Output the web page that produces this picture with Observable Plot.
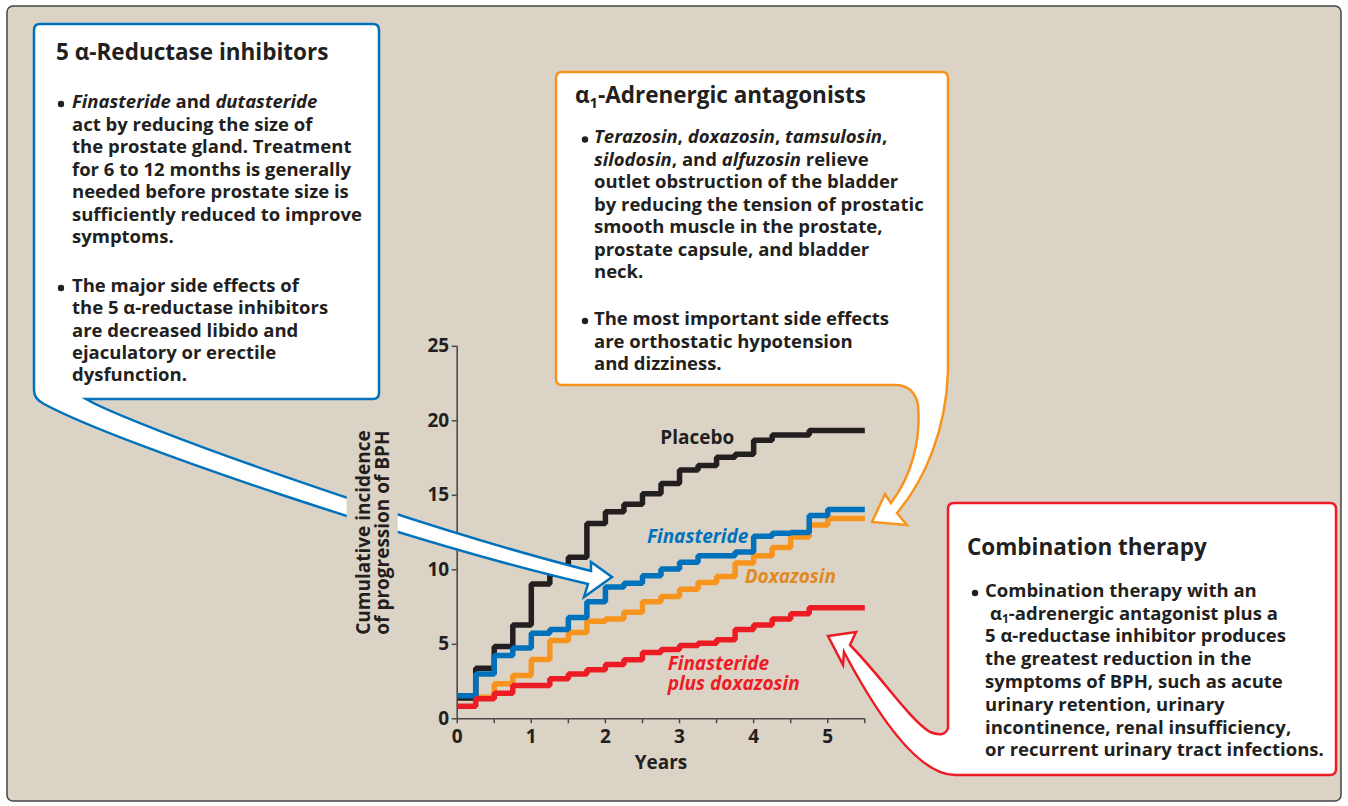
<!DOCTYPE html>
<html><head><meta charset="utf-8">
<script src="https://cdn.jsdelivr.net/npm/d3@7"></script>
<script src="https://cdn.jsdelivr.net/npm/@observablehq/plot@0.6"></script>
<style>
html,body{margin:0;padding:0;background:#fff;}
#chart{position:relative;width:1348px;height:806px;overflow:hidden;}
#chart svg{position:absolute;left:0;top:0;}
</style></head><body><div id="chart"></div>
<script>
// ---------- data ----------
const years       = [0, 0.25, 0.5, 0.75, 1, 1.25, 1.5, 1.75, 2, 2.25, 2.5, 2.75, 3, 3.25, 3.5, 3.75, 4, 4.25, 4.5, 4.75, 5, 5.5];
const placebo     = [1.4, 3.4, 4.85, 6.3, 9.05, 9.7, 10.85, 13.1, 13.9, 14.4, 15.1, 15.8, 16.7, 17.0, 17.55, 17.75, 18.7, 19.05, 19.05, 19.35, 19.35, 19.35];
const finasteride = [1.55, 3.0, 4.25, 4.75, 5.75, 6.0, 6.8, 7.85, 8.85, 9.1, 9.6, 10.05, 10.5, 10.95, 10.95, 11.2, 12.25, 12.45, 12.5, 13.65, 14.05, 14.05];
const doxazosin   = [1.4, 1.45, 2.35, 2.9, 3.98, 5.25, 5.8, 6.55, 6.7, 7.15, 7.85, 8.2, 8.7, 9.15, 9.55, 10.45, 10.95, 11.5, 12.2, 13.0, 13.45, 13.45];
const combination = [0.85, 1.35, 1.72, 2.23, 2.23, 2.68, 3.0, 3.3, 3.64, 3.96, 4.45, 4.65, 4.92, 5.07, 5.3, 6.0, 6.3, 6.7, 7.05, 7.45, 7.45, 7.45];
const seriesNames = ["Placebo", "Finasteride", "Doxazosin", "Finasteride plus doxazosin"];
const seriesColors = ["#231f20", "#0072bc", "#f7941d", "#ed1c24"];
const xTicks = [0, 0.5, 1, 1.5, 2, 2.5, 3, 3.5, 4, 4.5, 5, 5.5];
const yTicks = [0, 5, 10, 15, 20, 25];
const xLabel = "Years";
const yLabel = "Cumulative incidence\nof progression of BPH";

const box1Title = "5 α-Reductase inhibitors";
const box1Bullet1 = ["*Finasteride* and *dutasteride*", "act by reducing the size of", "the prostate gland. Treatment", "for 6 to 12 months is generally", "needed before prostate size is", "sufficiently reduced to improve", "symptoms."];
const box1Bullet2 = ["The major side effects of", "the 5 α-reductase inhibitors", "are decreased libido and", "ejaculatory or erectile", "dysfunction."];
const box2Title = "α{1}-Adrenergic antagonists";
const box2Bullet1 = ["*Terazosin*, *doxazosin*, *tamsulosin*,", "*silodosin*, and *alfuzosin* relieve", "outlet obstruction of the bladder", "by reducing the tension of prostatic", "smooth muscle in the prostate,", "prostate capsule, and bladder", "neck."];
const box2Bullet2 = ["The most important side effects", "are orthostatic hypotension", "and dizziness."];
const box3Title = "Combination therapy";
const box3Bullet1 = ["Combination therapy with an", "α{1}-adrenergic antagonist plus a", "5 α-reductase inhibitor produces", "the greatest reduction in the", "symptoms of BPH, such as acute", "urinary retention, urinary", "incontinence, renal insufficiency,", "or recurrent urinary tract infections."];

// ---------- build ----------
const FONT = "'Open Sans', Lato, sans-serif";
const INK = "#231f20";
const AXIS = "#4a4a4a";
const BG = "#dcd3c7";
const seriesData = [placebo, finasteride, doxazosin, combination];
const rows = [];
seriesNames.forEach((name, s) => seriesData[s].forEach((v, i) => rows.push({series: name, year: years[i], value: v})));
const drawOrder = ["Doxazosin", "Placebo", "Finasteride", "Finasteride plus doxazosin"];

const lineMarks = drawOrder.map(name => Plot.line(rows.filter(d => d.series === name), {
  x: "year", y: "value", stroke: "series", strokeWidth: 5.5, curve: "step-after", strokeLinejoin: "miter", strokeLinecap: "butt"
}));

const svgNode = Plot.plot({
  width: 1348, height: 806,
  marginLeft: 456.7, marginRight: 483.7, marginTop: 345.8, marginBottom: 87.7,
  style: {background: "transparent", fontFamily: FONT, color: INK, overflow: "visible"},
  x: {domain: [0, 5.5]},
  y: {domain: [0, 25]},
  color: {domain: seriesNames, range: seriesColors},
  marks: [
    Plot.ruleX([0], {stroke: AXIS, strokeWidth: 1.6}),
    Plot.ruleY([0], {stroke: AXIS, strokeWidth: 1.6}),
    Plot.axisX({ticks: xTicks, tickFormat: d => Number.isInteger(d) ? String(d) : "", tickSize: 5, tickPadding: 6,
      fontSize: 19, fontWeight: "bold", stroke: AXIS, strokeWidth: 1.5, fill: INK,
      label: xLabel, labelAnchor: "center", labelOffset: 50, labelArrow: "none"}),
    ...lineMarks,
    Plot.text(["Placebo"], {x: 2.74, y: 18.85, text: d => d, textAnchor: "start", fontSize: 19, fontWeight: "bold", fill: seriesColors[0]}),
    Plot.text(["Finasteride"], {x: 2.56, y: 12.2, text: d => d, textAnchor: "start", fontSize: 19, fontWeight: "bold", fontStyle: "italic", fill: seriesColors[1]}),
    Plot.text(["Doxazosin"], {x: 3.88, y: 9.55, text: d => d, textAnchor: "start", fontSize: 19, fontWeight: "bold", fontStyle: "italic", fill: "#e08a22"}),
    Plot.text(["Finasteride\nplus doxazosin"], {x: 2.84, y: 3.05, text: d => d, textAnchor: "start", lineAnchor: "middle", lineHeight: 1.06, fontSize: 19, fontWeight: "bold", fontStyle: "italic", fill: seriesColors[3]}),
    Plot.axisY({ticks: yTicks, tickSize: 5, tickPadding: 3, fontSize: 19, fontWeight: "bold", stroke: AXIS, strokeWidth: 1.5, fill: INK,
      label: yLabel, labelAnchor: "center", labelOffset: 101, labelArrow: "none"})
  ]
});
document.getElementById("chart").appendChild(svgNode);

const svg = d3.select(svgNode);
// outer frame
svg.insert("rect", ":first-child").attr("x", 7).attr("y", 6).attr("width", 1334).attr("height", 795).attr("rx", 6)
  .attr("fill", BG).attr("stroke", "#444").attr("stroke-width", 1.5);

// callout shapes, below y-axis label
const ylab = svgNode.querySelector('[aria-label="y-axis label"]');
const callG = d3.create("svg:g").node();
svgNode.insertBefore(callG, ylab);
const cg = d3.select(callG);
cg.append("path").attr("fill", "#fff").attr("stroke", "#0072bc").attr("stroke-width", 2.5)
  .attr("d", "M40,24 H373 Q379,24 379,30 V393 Q379,399 373,399 H86 C130,425 420,528 591,571 L591,562 L612,577 L584,597 L588,584 C420,545 120,445 44,404 Q34,399 34,390 V30 Q34,24 40,24 Z");
cg.append("path").attr("fill", "#fff").attr("stroke", "#f7941d").attr("stroke-width", 2.5)
  .attr("d", "M562,72 H942 Q948,72 948,78 V372 C946,430 925,480 897,513 L907,525 L872,522 L885,494 L891,503 C912,475 921,440 918,405 Q914,385 895,385 H562 Q556,385 556,379 V78 Q556,72 562,72 Z");
cg.append("path").attr("fill", "#fff").attr("stroke", "#ed1c24").attr("stroke-width", 2.5)
  .attr("d", "M954,503 H1330 Q1336,503 1336,509 V769 Q1336,775 1330,775 H955 C920,775 880,720 844,652 L843,665 L828,636 L856,632 L850,645 C880,675 910,720 930,732 Q945,738 948,728 V509 Q948,503 954,503 Z");

// knock-out behind y label (from its rendered box)
if (ylab) {
  const r = ylab.getBoundingClientRect();
  const s = svgNode.getBoundingClientRect();
  svg.insert("rect", () => ylab).attr("x", r.left - s.left - 3).attr("y", r.top - s.top - 4)
    .attr("width", r.width + 6).attr("height", r.height + 8).attr("fill", BG);
}

// box texts
const tg = svg.append("g").attr("font-family", FONT).attr("fill", INK).attr("font-weight", 700).attr("text-anchor", "start");
function drawText(x, y, str, size) {
  const t = tg.append("text").attr("x", x).attr("y", y).attr("font-size", size);
  const parts = str.split(/(\*[^*]*\*|\{[^}]*\})/).filter(s => s.length);
  let pending = 0;
  for (const p of parts) {
    let ts;
    if (p.startsWith("*")) ts = t.append("tspan").attr("font-style", "italic").text(p.slice(1, -1));
    else if (p.startsWith("{")) { ts = t.append("tspan").attr("font-size", size * 0.65).text(p.slice(1, -1)); ts.attr("dy", pending + size * 0.2); pending = -size * 0.2; continue; }
    else ts = t.append("tspan").text(p);
    if (pending) { ts.attr("dy", pending); pending = 0; }
  }
}
function bullet(x, y) { tg.append("circle").attr("cx", x).attr("cy", y).attr("r", 3.2).attr("fill", INK); }
function block(x, y0, step, lines, size) { lines.forEach((l, i) => drawText(x, y0 + i * step, l, size)); }

drawText(56, 60, box1Title, 22.5);
bullet(61, 104); block(72, 108, 22.5, box1Bullet1, 18.5);
bullet(61, 288); block(72, 291.7, 22.4, box1Bullet2, 18.5);

drawText(575, 103, box2Title, 22.5);
bullet(585, 139.5); block(594, 143.3, 22.5, box2Bullet1, 18.5);
bullet(585, 321); block(594, 325, 22.5, box2Bullet2, 18.5);

drawText(967, 555, box3Title, 22.5);
bullet(975, 593);
box3Bullet1.forEach((l, i) => drawText(i === 1 ? 990 : 985, 596.7 + i * 22.8, l, 18.5));
</script></body></html>
